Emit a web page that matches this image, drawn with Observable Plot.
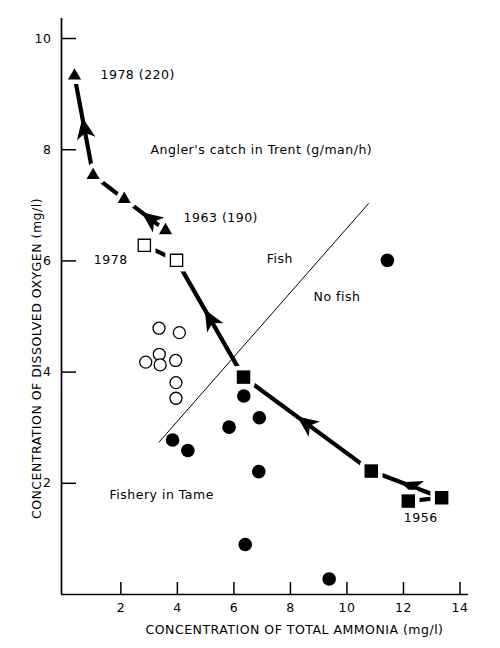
<!DOCTYPE html>
<html>
<head>
<meta charset="utf-8">
<script src="https://cdn.jsdelivr.net/npm/d3@7"></script>
<script src="https://cdn.jsdelivr.net/npm/@observablehq/plot@0.6"></script>
<style>
  html, body { margin: 0; padding: 0; background: #fff; }
  #chart { width: 500px; height: 648px; }
</style>
</head>
<body>
<div id="chart"></div>
<script>
// ---------- data ----------
// Angler's catch in Trent (triangles), chronological 1963 -> 1978
const catchX = [3.58, 2.12, 1.02, 0.36];
const catchY = [6.55, 7.11, 7.54, 9.33];
const catchArrowSegs = [0, 2];

// Trent path (squares), chronological 1956 -> 1978
const trentX = [12.17, 13.35, 10.86, 6.34, 3.97, 2.83];
const trentY = [1.68, 1.74, 2.22, 3.91, 6.01, 6.28];
const trentOpen = [false, false, false, false, true, true];
const trentArrowSegs = [1, 2, 3];

// Fishery in Tame: fish present (open circles)
const fishX = [3.35, 4.07, 3.36, 2.88, 3.39, 3.94, 3.95, 3.95];
const fishY = [4.79, 4.71, 4.32, 4.18, 4.13, 4.21, 3.81, 3.53];

// no fish (filled circles)
const noFishX = [3.83, 4.37, 5.83, 6.35, 6.90, 6.88, 6.40, 9.37, 11.43];
const noFishY = [2.78, 2.59, 3.01, 3.57, 3.18, 2.21, 0.90, 0.28, 6.01];

// Fish / No fish boundary
const boundaryX = [3.35, 10.76];
const boundaryY = [2.74, 7.03];

// Annotations
const noteText = ["Angler's catch in Trent (g/man/h)", "Fish", "No fish", "Fishery in Tame",
                  "1978 (220)", "1963 (190)", "1956"];
const noteX = [3.05, 7.16, 8.82, 1.60, 1.28, 4.22, 12.61];
const noteY = [7.99, 6.03, 5.35, 1.79, 9.34, 6.77, 1.37];
const noteAnchor = ["start", "start", "start", "start", "start", "start", "middle"];
const endNoteText = ["1978"];
const endNoteX = [2.24];
const endNoteY = [6.01];

const xTicks = [2, 4, 6, 8, 10, 12, 14];
const yTicks = [2, 4, 6, 8, 10];
const xLabel = "CONCENTRATION OF TOTAL AMMONIA (mg/l)";
const yLabel = "CONCENTRATION OF DISSOLVED OXYGEN (mg/l)";

// ---------- layout ----------
const W = 500, H = 648, ml = 61, mr = 32, mt = 18, mb = 54;
const xDomain = [-0.1, 14.3];
const yDomain = [0, 10.36];
const kx = (W - ml - mr) / (xDomain[1] - xDomain[0]);
const ky = (H - mt - mb) / (yDomain[1] - yDomain[0]);

// build tables
const catchPts = catchX.map((x, i) => ({x, y: catchY[i]}));
const trentPts = trentX.map((x, i) => ({x, y: trentY[i], open: trentOpen[i]}));
const fishPts = fishX.map((x, i) => ({x, y: fishY[i]}));
const noFishPts = noFishX.map((x, i) => ({x, y: noFishY[i]}));
const boundary = boundaryX.map((x, i) => ({x, y: boundaryY[i]}));
const notes = noteText.map((t, i) => ({t, x: noteX[i], y: noteY[i], a: noteAnchor[i]}));
const endNotes = endNoteText.map((t, i) => ({t, x: endNoteX[i], y: endNoteY[i]}));

const tipFrac = 0.58;
function arrowsFor(pts, segs) {
  return segs.map(i => {
    const a = pts[i], b = pts[i + 1];
    const dx = b.x - a.x, dy = b.y - a.y;
    return {
      x: a.x + tipFrac * dx,
      y: a.y + tipFrac * dy,
      angle: Math.atan2(dx * kx, dy * ky) * 180 / Math.PI
    };
  });
}
const arrows = [...arrowsFor(catchPts, catchArrowSegs), ...arrowsFor(trentPts, trentArrowSegs)];

// arrowhead symbol: tip at origin, pointing up
const arrowHead = {
  draw(ctx, size) {
    const s = Math.sqrt(size / Math.PI) / 6;
    ctx.moveTo(0, 0);
    ctx.lineTo(7.5 * s, 17 * s);
    ctx.lineTo(0, 12.5 * s);
    ctx.lineTo(-7.5 * s, 17 * s);
    ctx.closePath();
  }
};

const plotH = H - mt - mb, plotW = W - ml - mr;

const chart = Plot.plot({
  width: W,
  height: H,
  marginLeft: ml,
  marginRight: mr,
  marginTop: mt,
  marginBottom: mb,
  style: {fontFamily: "DejaVu Sans", fontSize: "12.5px", letterSpacing: "0.5px", background: "white", color: "black"},
  x: {domain: xDomain, ticks: xTicks, tickSize: 0, tickPadding: 9, tickFormat: d => d, label: null},
  y: {domain: yDomain, ticks: yTicks, tickSize: 0, tickPadding: 10, tickFormat: d => d, label: null},
  marks: [
    // axis lines
    Plot.ruleX([xDomain[0]], {stroke: "black", strokeWidth: 1.7}),
    Plot.ruleY([yDomain[0]], {stroke: "black", strokeWidth: 1.7}),
    // inward ticks
    Plot.tickX(xTicks, {x: d => d, insetTop: plotH - 12, stroke: "black", strokeWidth: 1.5}),
    Plot.tickY(yTicks, {y: d => d, insetRight: plotW - 15, stroke: "black", strokeWidth: 1.5}),
    // boundary
    Plot.line(boundary, {x: "x", y: "y", stroke: "black", strokeWidth: 1}),
    // paths
    Plot.line(catchPts, {x: "x", y: "y", stroke: "black", strokeWidth: 4.2, strokeLinecap: "butt"}),
    Plot.line(trentPts, {x: "x", y: "y", stroke: "black", strokeWidth: 4.2, strokeLinecap: "butt"}),
    // arrowheads
    Plot.dot(arrows, {x: "x", y: "y", r: 7.5, symbol: arrowHead, rotate: "angle", fill: "black", stroke: "none"}),
    // halos around path markers
    Plot.dot(catchPts, {x: "x", y: "y", r: 4.9, symbol: "triangle", fill: "white", stroke: "white", strokeWidth: 9, strokeLinejoin: "round"}),
    Plot.dot(trentPts, {x: "x", y: "y", r: 7.6, symbol: "square", fill: "white", stroke: "white", strokeWidth: 9, strokeLinejoin: "round"}),
    // markers
    Plot.dot(catchPts, {x: "x", y: "y", r: 4.9, symbol: "triangle", fill: "black", stroke: "none"}),
    Plot.dot(trentPts.filter(d => !d.open), {x: "x", y: "y", r: 7.6, symbol: "square", fill: "black", stroke: "none"}),
    Plot.dot(trentPts.filter(d => d.open), {x: "x", y: "y", r: 6.9, symbol: "square", fill: "white", stroke: "black", strokeWidth: 1.3}),
    Plot.dot(fishPts, {x: "x", y: "y", r: 6, fill: "white", stroke: "black", strokeWidth: 1.3}),
    Plot.dot(noFishPts, {x: "x", y: "y", r: 6.8, fill: "black", stroke: "none"}),
    // annotations
    Plot.text(notes, {x: "x", y: "y", text: "t", textAnchor: "start", lineAnchor: "middle", fill: "black",
      filter: d => d.a === "start"}),
    Plot.text(notes, {x: "x", y: "y", text: "t", textAnchor: "middle", lineAnchor: "middle", fill: "black",
      filter: d => d.a === "middle"}),
    Plot.text(endNotes, {x: "x", y: "y", text: "t", textAnchor: "end", lineAnchor: "middle", fill: "black"}),
    // axis titles
    Plot.text([xLabel], {text: d => d, frameAnchor: "bottom", textAnchor: "middle", lineAnchor: "middle", dx: 29.5, dy: 35, fill: "black"}),
    Plot.text([yLabel], {text: d => d, frameAnchor: "left", textAnchor: "middle", rotate: -90, lineAnchor: "middle", dx: -25, dy: 52, fill: "black"})
  ]
});
document.getElementById("chart").appendChild(chart);
</script>
</body>
</html>
